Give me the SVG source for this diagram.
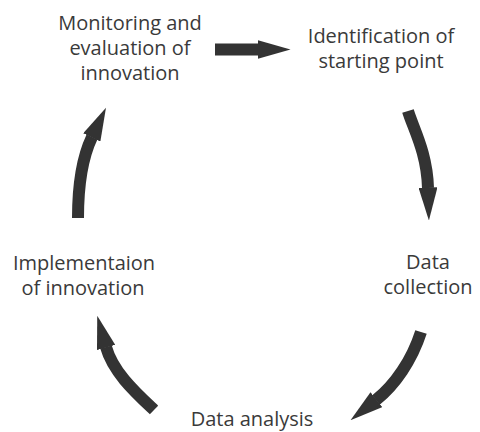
<svg xmlns="http://www.w3.org/2000/svg" width="480" height="432" viewBox="0 0 480 432">
<style>
.t{font-family:"Open Sans","Liberation Sans",sans-serif;font-size:20px;fill:#3a3a3a;text-anchor:middle}
.c{fill:none;stroke:#333;stroke-width:12;stroke-linecap:butt}
</style>
<defs>
<marker id="ah" markerUnits="userSpaceOnUse" viewBox="0 0 33 19" refX="0.5" refY="9.5" markerWidth="33" markerHeight="19" orient="auto">
<path d="M0,0 L33,9.5 L0,19 z" fill="#333"/>
</marker>
</defs>
<rect width="480" height="432" fill="#fff"/>
<g id="connectors">
<path class="c" d="M215,49.5 L258,49.5" marker-end="url(#ah)"/>
<path class="c" d="M408,111 C413,128 427,152 428,188" marker-end="url(#ah)"/>
<path class="c" d="M421,332 C412,360 395,385 376,400" marker-end="url(#ah)"/>
<path class="c" d="M154,410 C135,392 113,372 106,347" marker-end="url(#ah)"/>
<path class="c" d="M78,218 C78,185 82,158 92,137" marker-end="url(#ah)"/>
</g>
<g id="monitoring">
<text class="t" x="130" y="30">Monitoring and</text>
<text class="t" x="130" y="55">evaluation of</text>
<text class="t" x="130" y="80">innovation</text>
</g>
<g id="identification">
<text class="t" x="381" y="43">Identification of</text>
<text class="t" x="381" y="68">starting point</text>
</g>
<g id="collection">
<text class="t" x="428" y="269">Data</text>
<text class="t" x="428" y="294">collection</text>
</g>
<g id="analysis">
<text class="t" x="252" y="426">Data analysis</text>
</g>
<g id="implementation">
<text class="t" x="84" y="270">Implementaion</text>
<text class="t" x="83" y="295">of innovation</text>
</g>
</svg>
